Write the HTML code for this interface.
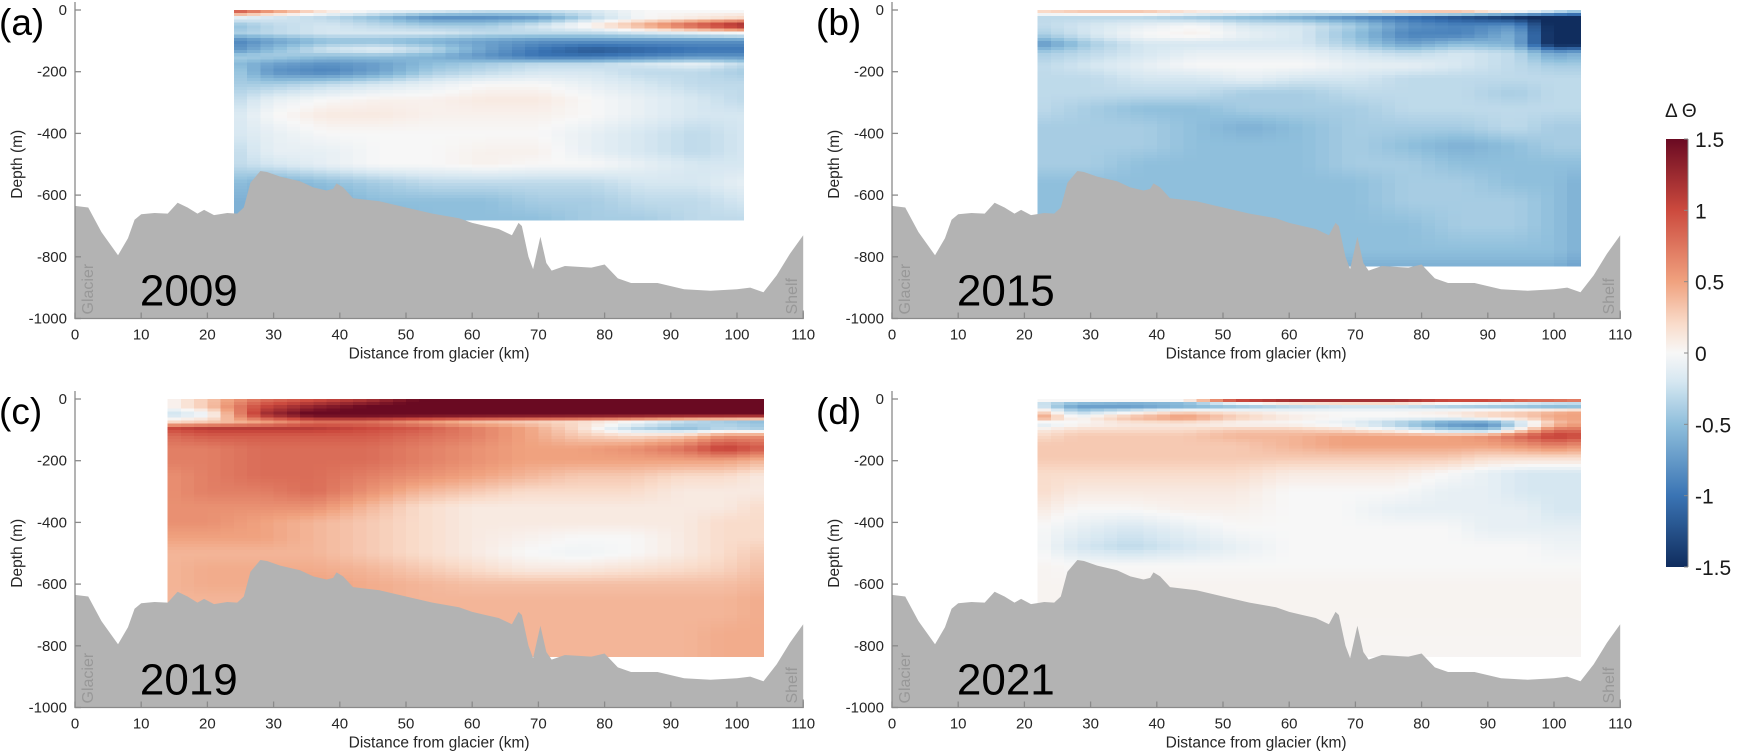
<!DOCTYPE html>
<html><head><meta charset="utf-8">
<style>
html,body{margin:0;padding:0;background:#fff;}
svg{display:block;font-family:"Liberation Sans",Arial,sans-serif;}
</style></head>
<body>
<svg id="fig" width="1737" height="752" viewBox="0 0 1737 752"></svg>
<script>
// ---------- data ----------
const bathyKm    = [0,2,4,6.5,8,9,10,12,14,15.5,17,18.5,19.5,21,23,24.5,25.5,26.5,28,29,31,34,36,38,39,39.5,40.5,42,46,50,54,58,60,62,64,66,67,67.5,68.5,69.2,70.3,71.2,72,74,78,80,82,84,88,92,96,100,102,104,106,108,110];
const bathyDepth = [635,640,720,795,740,680,662,658,660,625,640,660,648,665,658,660,640,560,522,525,540,555,575,585,580,562,575,610,620,640,660,675,690,700,710,730,690,700,800,840,735,820,845,830,835,825,870,885,885,905,910,905,900,915,860,790,730];

const xTicks = [0,10,20,30,40,50,60,70,80,90,100,110];
const yTicks = [0,-200,-400,-600,-800,-1000];
const cbTicks = [1.5,1,0.5,0,-0.5,-1,-1.5];

// panel (a) 2009
const aKm = [24,30,38,46,54,62,70,78,86,94,101];
const aDepth = [5,25,50,75,100,130,150,175,200,240,290,340,400,460,500,560,620,680];
const aVals = [
[0.9,0.5,0.1,-0.1,-0.2,-0.3,-0.3,-0.2,0,0,0],
[-0.1,-0.2,-0.3,-0.5,-0.8,-0.8,-0.7,-0.3,0,0.1,0.2],
[-0.5,-0.3,-0.2,-0.3,-0.4,-0.4,-0.2,0.1,0.5,1.0,1.4],
[-0.4,-0.3,-0.2,-0.2,-0.2,-0.3,-0.3,-0.3,-0.2,-0.1,0],
[-0.9,-0.7,-0.5,-0.5,-0.6,-0.7,-0.8,-0.8,-0.8,-0.8,-0.8],
[-0.8,-0.5,-0.2,-0.1,-0.3,-0.7,-1.0,-1.2,-1.1,-1.0,-1.0],
[-0.4,-0.4,-0.5,-0.5,-0.6,-0.8,-1.0,-1.0,-0.9,-0.8,-0.8],
[-0.5,-0.7,-0.8,-0.7,-0.5,-0.4,-0.3,-0.3,-0.2,-0.1,-0.3],
[-0.4,-0.8,-0.9,-0.7,-0.4,-0.3,-0.2,-0.2,-0.3,-0.3,-0.4],
[-0.4,-0.4,-0.3,-0.2,-0.1,0,0,-0.1,-0.2,-0.3,-0.3],
[-0.3,-0.1,0,0.05,0.05,0.1,0.1,0,-0.1,-0.2,-0.3],
[-0.2,0,0.1,0.1,0.05,0.05,0.05,0,-0.1,-0.2,-0.2],
[-0.2,-0.1,0,0,0,0,0,-0.1,-0.2,-0.3,-0.2],
[-0.3,-0.1,-0.1,0,0,0.05,0.05,-0.1,-0.2,-0.3,-0.2],
[-0.3,-0.2,-0.1,0,0,0.05,0,0,-0.1,-0.2,-0.2],
[-0.5,-0.6,-0.5,-0.4,-0.3,-0.3,-0.3,-0.3,-0.2,-0.2,-0.1],
[-0.6,-0.6,-0.6,-0.5,-0.5,-0.5,-0.4,-0.4,-0.3,-0.3,-0.2],
[-0.6,-0.6,-0.6,-0.6,-0.5,-0.5,-0.5,-0.4,-0.4,-0.3,-0.3]];

// panel (b) 2015
const bKm = [22,30,38,46,54,62,70,78,86,94,100,104];
const bDepth = [5,25,50,80,110,140,180,220,270,320,380,440,500,560,620,700,780,830];
const bVals = [
[0.2,0.3,0.3,0.1,0,-0.1,0,0.3,0.3,0,-0.3,-0.5],
[-0.3,-0.3,-0.3,-0.4,-0.5,-0.6,-0.8,-1.0,-1.2,-1.4,-1.6,-1.6],
[-0.3,-0.2,-0.1,0,-0.2,-0.2,-0.4,-0.8,-0.9,-0.8,-1.6,-1.6],
[-0.4,-0.2,0,0.05,-0.1,-0.2,-0.5,-0.9,-0.9,-0.6,-1.6,-1.6],
[-0.8,-0.4,-0.2,-0.2,-0.2,-0.2,-0.4,-0.7,-0.5,-0.6,-1.6,-1.6],
[-0.4,-0.3,-0.2,-0.1,-0.1,-0.1,-0.2,-0.3,-0.2,-0.3,-0.7,-0.6],
[-0.3,-0.2,-0.1,0,0,0,-0.1,-0.1,-0.2,-0.3,-0.4,-0.4],
[-0.3,-0.3,-0.2,-0.2,-0.1,-0.2,-0.2,-0.3,-0.3,-0.3,-0.3,-0.3],
[-0.3,-0.3,-0.3,-0.3,-0.4,-0.4,-0.3,-0.3,-0.3,-0.4,-0.3,-0.3],
[-0.3,-0.4,-0.5,-0.5,-0.4,-0.4,-0.4,-0.3,-0.3,-0.3,-0.3,-0.3],
[-0.4,-0.4,-0.4,-0.5,-0.6,-0.5,-0.4,-0.4,-0.4,-0.3,-0.4,-0.4],
[-0.4,-0.4,-0.4,-0.5,-0.5,-0.5,-0.4,-0.5,-0.6,-0.5,-0.4,-0.4],
[-0.4,-0.4,-0.5,-0.5,-0.5,-0.5,-0.4,-0.4,-0.5,-0.5,-0.5,-0.5],
[-0.5,-0.5,-0.5,-0.5,-0.5,-0.5,-0.5,-0.4,-0.4,-0.5,-0.5,-0.6],
[-0.5,-0.5,-0.5,-0.5,-0.5,-0.5,-0.5,-0.4,-0.4,-0.4,-0.5,-0.6],
[-0.5,-0.5,-0.5,-0.5,-0.5,-0.5,-0.5,-0.5,-0.4,-0.4,-0.5,-0.6],
[-0.5,-0.5,-0.5,-0.5,-0.5,-0.5,-0.5,-0.5,-0.5,-0.5,-0.5,-0.6],
[-0.6,-0.6,-0.6,-0.6,-0.6,-0.6,-0.6,-0.6,-0.6,-0.6,-0.6,-0.7]];

// panel (c) 2019
const cKm = [14,20,28,36,44,52,60,68,76,84,92,98,104];
const cDepth = [5,25,50,75,95,120,160,200,250,300,350,400,450,500,550,600,650,700,760,835];
const cVals = [
[0,0.3,0.8,1.0,1.2,1.5,1.6,1.6,1.6,1.6,1.6,1.5,1.5],
[0,0.3,1.0,1.3,1.5,1.6,1.6,1.6,1.6,1.6,1.6,1.6,1.6],
[-0.3,-0.1,1.2,1.6,1.6,1.6,1.6,1.6,1.6,1.6,1.6,1.6,1.6],
[0.2,0.3,0.5,0.8,0.8,0.6,0.4,0.3,0.2,0,-0.3,-0.4,-0.5],
[1.0,1.1,1.1,1.1,1.0,0.9,0.7,0.5,0.2,-0.3,-0.5,-0.3,-0.4],
[0.8,0.9,0.9,0.9,0.9,0.8,0.7,0.5,0.3,0.2,0.3,0.6,0.6],
[0.7,0.7,0.8,0.8,0.8,0.7,0.6,0.5,0.5,0.6,0.8,1.1,0.9],
[0.7,0.7,0.8,0.8,0.8,0.7,0.6,0.5,0.5,0.5,0.5,0.5,0.4],
[0.6,0.7,0.8,0.8,0.7,0.6,0.5,0.4,0.3,0.3,0.2,0.2,0.1],
[0.6,0.7,0.7,0.8,0.6,0.4,0.3,0.2,0.2,0.2,0.1,0.1,0.1],
[0.6,0.6,0.6,0.6,0.4,0.2,0.1,0.1,0.1,0.1,0.1,0.1,0.2],
[0.6,0.6,0.5,0.4,0.3,0.2,0.1,0.1,0.1,0.1,0.1,0.2,0.2],
[0.5,0.5,0.5,0.4,0.3,0.2,0.1,0.05,0,0,0.1,0.2,0.2],
[0.4,0.4,0.4,0.4,0.3,0.2,0.1,0,-0.05,0,0.1,0.2,0.3],
[0.4,0.45,0.45,0.45,0.4,0.3,0.2,0.1,0.1,0.15,0.2,0.25,0.35],
[0.4,0.45,0.45,0.5,0.45,0.4,0.35,0.35,0.35,0.35,0.35,0.35,0.4],
[0.4,0.4,0.4,0.45,0.45,0.4,0.4,0.4,0.4,0.4,0.4,0.4,0.45],
[0.4,0.4,0.4,0.4,0.4,0.4,0.4,0.4,0.4,0.4,0.4,0.4,0.45],
[0.4,0.4,0.4,0.4,0.4,0.4,0.4,0.4,0.4,0.4,0.4,0.45,0.45],
[0.4,0.4,0.4,0.4,0.4,0.4,0.4,0.4,0.4,0.4,0.4,0.45,0.45]];

// panel (d) 2021
const dKm = [22,28,36,44,52,60,68,76,84,90,96,100,104];
const dDepth = [5,20,40,60,80,100,120,150,190,240,300,360,420,480,540,600,700,835];
const dVals = [
[0,0,0,0,1.0,1.2,1.2,1.2,1.0,1.0,0.8,0.8,0.7],
[-0.3,-0.8,-0.9,-0.8,-0.6,-0.4,-0.3,-0.3,-0.5,-0.6,-0.7,-0.8,-0.8],
[0.3,-0.4,-0.1,0.2,0.1,0,0,0,0.1,0.2,0.3,0.4,0.5],
[0.6,0,0.4,0.6,0.3,0.1,0,0,0,0.2,0.3,0.5,0.5],
[-0.2,0,0.1,0.1,0,0,-0.1,-0.4,-0.8,-0.9,-0.2,0.3,0.5],
[0.1,0.2,0.2,0.2,0.3,0.3,0.2,0,-0.4,-0.5,0.3,0.8,0.8],
[0.2,0.3,0.3,0.3,0.4,0.4,0.5,0.5,0.5,0.6,0.9,1.1,1.0],
[0.3,0.3,0.3,0.3,0.3,0.4,0.5,0.5,0.5,0.5,0.6,0.7,0.6],
[0.3,0.3,0.3,0.3,0.3,0.3,0.3,0.3,0.3,0.2,0.2,0.2,0.2],
[0.2,0.2,0.2,0.2,0.2,0.1,0.1,0.1,0,-0.1,-0.2,-0.2,-0.2],
[0.2,0.1,0.1,0.1,0.1,0,0,0,-0.1,-0.1,-0.2,-0.2,-0.2],
[0.1,0,0,0.05,0.05,0,0,-0.1,-0.1,-0.1,-0.1,-0.2,-0.2],
[0,-0.1,-0.2,-0.1,0,0,0,0,0,-0.1,-0.1,-0.1,-0.1],
[0,-0.2,-0.3,-0.2,-0.1,0,0,0,0,0,0,-0.05,-0.05],
[0.03,0,0,0,0,0,0,0,0,0,0,0,0],
[0.03,0.03,0.03,0.03,0.03,0.03,0.03,0.03,0.03,0.03,0.03,0.03,0.03],
[0.03,0.03,0.03,0.03,0.03,0.03,0.03,0.03,0.03,0.03,0.03,0.03,0.03],
[0.02,0.02,0.02,0.02,0.02,0.02,0.02,0.02,0.02,0.02,0.02,0.02,0.02]];

const panelLetters = ['(a)','(b)','(c)','(d)'];
const panelYears = ['2009','2015','2019','2021'];
const panelKm = [aKm,bKm,cKm,dKm];
const panelDepth = [aDepth,bDepth,cDepth,dDepth];
const panelVals = [aVals,bVals,cVals,dVals];
const panelRange = [[24,101,680],[22,104,830],[14,104,835],[22,104,835]];

// ---------- rendering ----------
const NS='http://www.w3.org/2000/svg';
const svg=document.getElementById('fig');
function mk(tag,attrs,parent,text){const e=document.createElementNS(NS,tag);for(const k in attrs)e.setAttribute(k,attrs[k]);if(text!==undefined)e.textContent=text;(parent||svg).appendChild(e);return e;}

const cStops=[-1.5,-1.0,-0.5,-0.2,0,0.2,0.5,1.0,1.5];
const cCols=[[16,45,94],[58,116,180],[143,191,220],[214,231,241],[247,247,247],[249,220,203],[240,162,127],[204,74,62],[106,10,34]];
function cmap(v){v=Math.max(-1.5,Math.min(1.5,v));let i=0;while(i<cStops.length-2&&v>cStops[i+1])i++;const t=(v-cStops[i])/(cStops[i+1]-cStops[i]);const a=cCols[i],b=cCols[i+1];return 'rgb('+a.map((c,k)=>Math.round(c+(b[k]-c)*t)).join(',')+')';}
function sample(arr,v){let i=0;while(i<arr.length-2&&v>arr[i+1])i++;let t=(v-arr[i])/(arr[i+1]-arr[i]);t=Math.max(0,Math.min(1,t));return [i,t];}

const geo=[{x0:75,y0:10},{x0:892,y0:10},{x0:75,y0:399},{x0:892,y0:399}];
const pxKm=6.62, pxM=0.3085;

panelLetters.forEach((L,p)=>{
  const g=geo[p];
  const X=km=>g.x0+km*pxKm, Y=m=>g.y0+m*pxM;
  const grp=mk('g',{});
  
  
  const hm=mk('g',{'shape-rendering':'crispEdges'},grp);
  
  
  const [k0,k1,dmax]=panelRange[p], kms=panelKm[p], ds=panelDepth[p], V=panelVals[p];
  const dk=2, dd=10;
  for(let km=k0;km<k1;km+=dk){
    const kw=Math.min(dk,k1-km);
    const [ci,ct]=sample(kms,km+kw/2);
    for(let m=0;m<dmax;m+=dd){
      const mh=Math.min(dd,dmax-m);
      const [ri,rt]=sample(ds,m+mh/2);
      const v=(V[ri][ci]*(1-ct)+V[ri][ci+1]*ct)*(1-rt)+(V[ri+1][ci]*(1-ct)+V[ri+1][ci+1]*ct)*rt;
      const r=mk('rect',{x:X(km).toFixed(2),y:Y(m).toFixed(2),width:(kw*pxKm+0.6).toFixed(2),height:(mh*pxM+0.6).toFixed(2),fill:cmap(v)},hm);
      
      
    }
  }
  let d='M'+X(0)+','+Y(1000);
  bathyKm.forEach((k,i)=>{d+=' L'+X(k).toFixed(2)+','+Y(bathyDepth[i]).toFixed(2);});
  d+=' L'+X(110)+','+Y(1000)+' Z';
  const b=mk('path',{d:d,fill:'#b3b3b3'},grp);
  
  
  const ax=mk('path',{d:'M'+X(0)+','+(Y(0)-8)+' L'+X(0)+','+Y(1000)+' L'+X(110)+','+Y(1000)+' L'+X(110)+','+(Y(1000)-8),fill:'none',stroke:'#8a8a8a','stroke-width':1.3},grp);
  
  
  xTicks.forEach(t=>{
    mk('line',{x1:X(t),x2:X(t),y1:Y(1000),y2:Y(1000)-6,stroke:'#8a8a8a','stroke-width':1.3},grp);
    const tl=mk('text',{x:X(t),y:Y(1000)+21,'font-size':15,fill:'#262626','text-anchor':'middle'},grp,String(t));
    
    
  });
  yTicks.forEach(t=>{
    mk('line',{x1:X(0),x2:X(0)+6,y1:Y(-t),y2:Y(-t),stroke:'#8a8a8a','stroke-width':1.3},grp);
    const tl=mk('text',{x:X(0)-8,y:Y(-t)+5,'font-size':15,fill:'#262626','text-anchor':'end'},grp,String(t));
    
    
  });
  const xl=mk('text',{x:X(55),y:Y(1000)+40,'font-size':15.5,fill:'#262626','text-anchor':'middle'},grp,'Distance from glacier (km)');
  
  
  const yl=mk('text',{x:0,y:0,'font-size':15.5,fill:'#262626','text-anchor':'middle',transform:'translate('+(X(0)-53)+','+Y(500)+') rotate(-90)'},grp,'Depth (m)');
  
  
  const gl=mk('text',{x:0,y:0,'font-size':16,fill:'#989898','text-anchor':'start',transform:'translate('+(X(0)+18)+','+(Y(1000)-4)+') rotate(-90)'},grp,'Glacier');
  
  
  const sh=mk('text',{x:0,y:0,'font-size':16,fill:'#989898','text-anchor':'start',transform:'translate('+(X(110)-6)+','+(Y(1000)-4)+') rotate(-90)'},grp,'Shelf');
  
  
  const yr=mk('text',{x:X(9.8),y:Y(1000)-13,'font-size':44,fill:'#000'},grp,panelYears[p]);
  
  
  const pl=mk('text',{x:X(0)-76,y:Y(0)+25,'font-size':37,fill:'#000'},grp,L);
  
  
});

const cb=mk('g',{});


const cbTop=139, cbBot=567, cbX=1666, cbW=22;
const CB=v=>cbTop+(1.5-v)/3*(cbBot-cbTop);
const defs=mk('defs',{},cb);
const lg=mk('linearGradient',{id:'cbg',x1:0,y1:0,x2:0,y2:1},defs);
for(let i=0;i<=30;i++){const v=1.5-i*0.1;mk('stop',{offset:(i/30).toFixed(4),'stop-color':cmap(v)},lg);}
const cbr=mk('rect',{x:cbX,y:cbTop,width:cbW,height:cbBot-cbTop,fill:'url(#cbg)'},cb);


mk('line',{x1:cbX+cbW,x2:cbX+cbW,y1:cbTop,y2:cbBot,stroke:'#8a8a8a','stroke-width':1},cb);
cbTicks.forEach(t=>{
  mk('line',{x1:cbX+cbW-4,x2:cbX+cbW,y1:CB(t),y2:CB(t),stroke:'#8a8a8a','stroke-width':1},cb);
  const tl=mk('text',{x:cbX+cbW+7,y:CB(t)+8,'font-size':21,fill:'#1a1a1a'},cb,String(t));
  
  
});
const ct=mk('text',{x:cbX-1,y:cbTop-22,'font-size':19,fill:'#1a1a1a'},cb,'\u0394 \u0398');


</script>
</body></html>
